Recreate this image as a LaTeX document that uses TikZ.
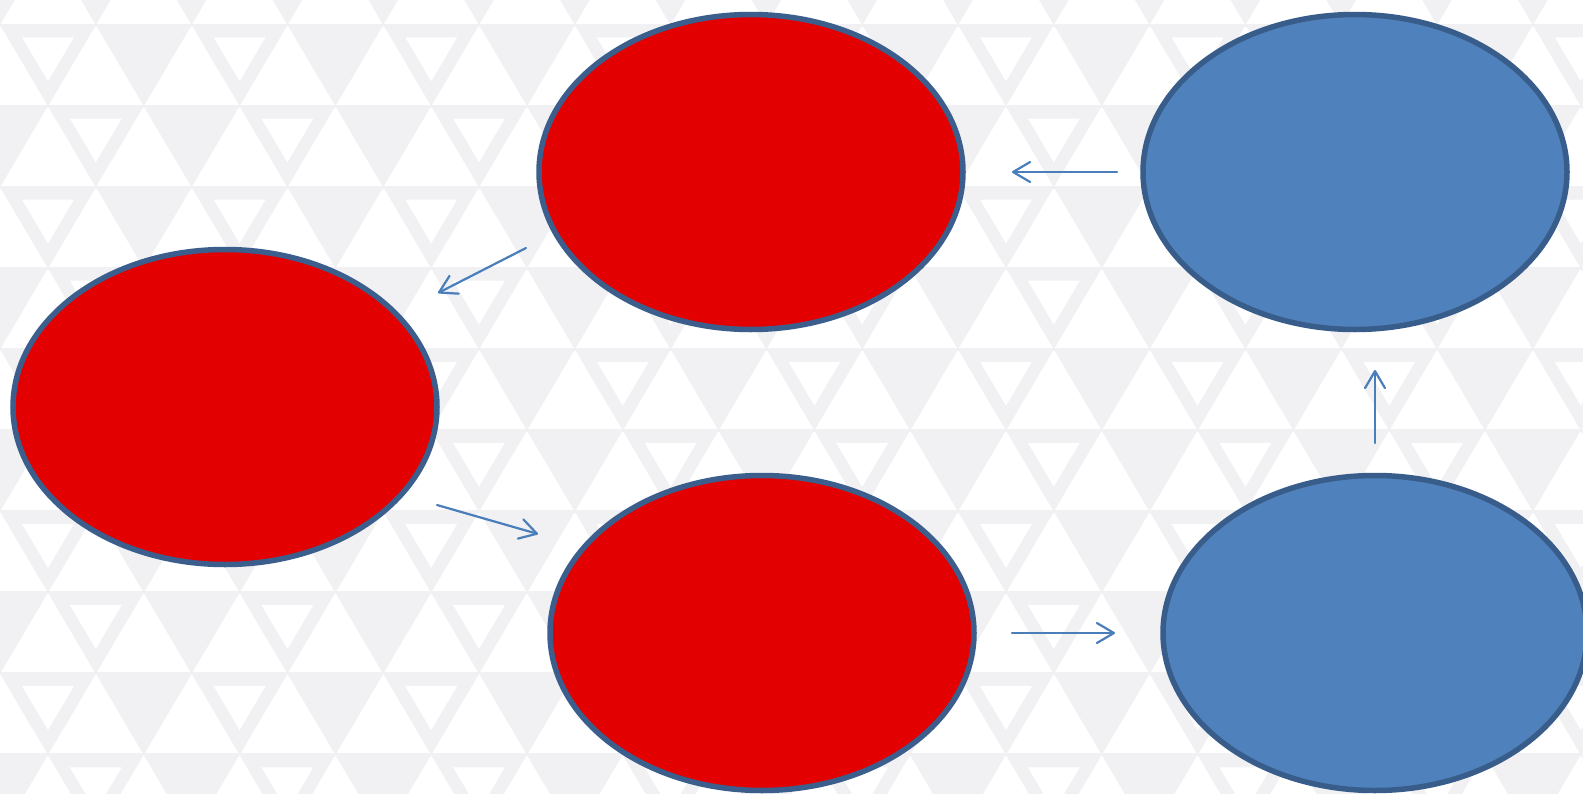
\documentclass[tikz,border=0pt]{standalone}
\usetikzlibrary{arrows.meta,shapes.geometric}
\definecolor{bggray}{RGB}{241,241,243}
\definecolor{redfill}{RGB}{227,0,0}
\definecolor{redline}{RGB}{59,94,140}
\definecolor{bluefill}{RGB}{79,129,189}
\definecolor{blueline}{RGB}{56,93,138}
\definecolor{arrowc}{RGB}{74,126,187}
\begin{document}
\begin{tikzpicture}[x=1pt,y=-1pt,
  redell/.style={ellipse, draw=redline, fill=redfill, line width=5.5pt,
    minimum width=424pt, minimum height=315pt, inner sep=0pt},
  blueell/.style={ellipse, draw=blueline, fill=bluefill, line width=5.5pt,
    minimum width=424pt, minimum height=315pt, inner sep=0pt},
  conn/.style={draw=arrowc, line width=2.2pt, line cap=round,
    -{Straight Barb[length=17pt,width=20pt,round]}}]
\useasboundingbox (0,0) rectangle (1583,793);
\begin{scope}
\clip (0,0) rectangle (1583,793);
\fill[white] (0,0) rectangle (1583,793);
\foreach \r in {0,...,10}{
  \pgfmathsetmacro{\top}{25+81.1*(\r-1)}
  \pgfmathsetmacro{\bot}{\top+81.1}
  \foreach \k in {-1,...,17}{
    \pgfmathsetmacro{\cx}{mod(\r,2)*48+95.8*\k}
    \pgfmathtruncatemacro{\odd}{mod(\r+\k+100,2)}
    \fill[bggray] (\cx-47.9,\top) -- (\cx+47.9,\top) -- (\cx,\bot) -- cycle;
    \ifnum\odd=1
      \fill[white] (\cx-25.9,\top+12.4) -- (\cx+25.9,\top+12.4) -- (\cx,\top+56.2) -- cycle;
    \fi
  }
  \draw[bggray, line width=3pt] (0,\top) -- (1583,\top);
}
\end{scope}
\node[redell] (top) at (751,172) {};
\node[redell] (left) at (225,407) {};
\node[redell] (bot) at (762,633) {};
\node[blueell] (tr) at (1355,172) {};
\node[blueell] (br) at (1375,633) {};
\coordinate (a1s) at (1117,172);
\coordinate (a1e) at (1012,172);
\coordinate (a2s) at (526,248);
\coordinate (a2e) at (438,293);
\coordinate (a3s) at (437,505);
\coordinate (a3e) at (538,534);
\coordinate (a4s) at (1012,633);
\coordinate (a4e) at (1115,633);
\coordinate (a5s) at (1375,443);
\coordinate (a5e) at (1375,370);
\draw[conn] (a1s) -- (a1e);
\draw[conn] (a2s) -- (a2e);
\draw[conn] (a3s) -- (a3e);
\draw[conn] (a4s) -- (a4e);
\draw[conn] (a5s) -- (a5e);
\end{tikzpicture}
\end{document}
